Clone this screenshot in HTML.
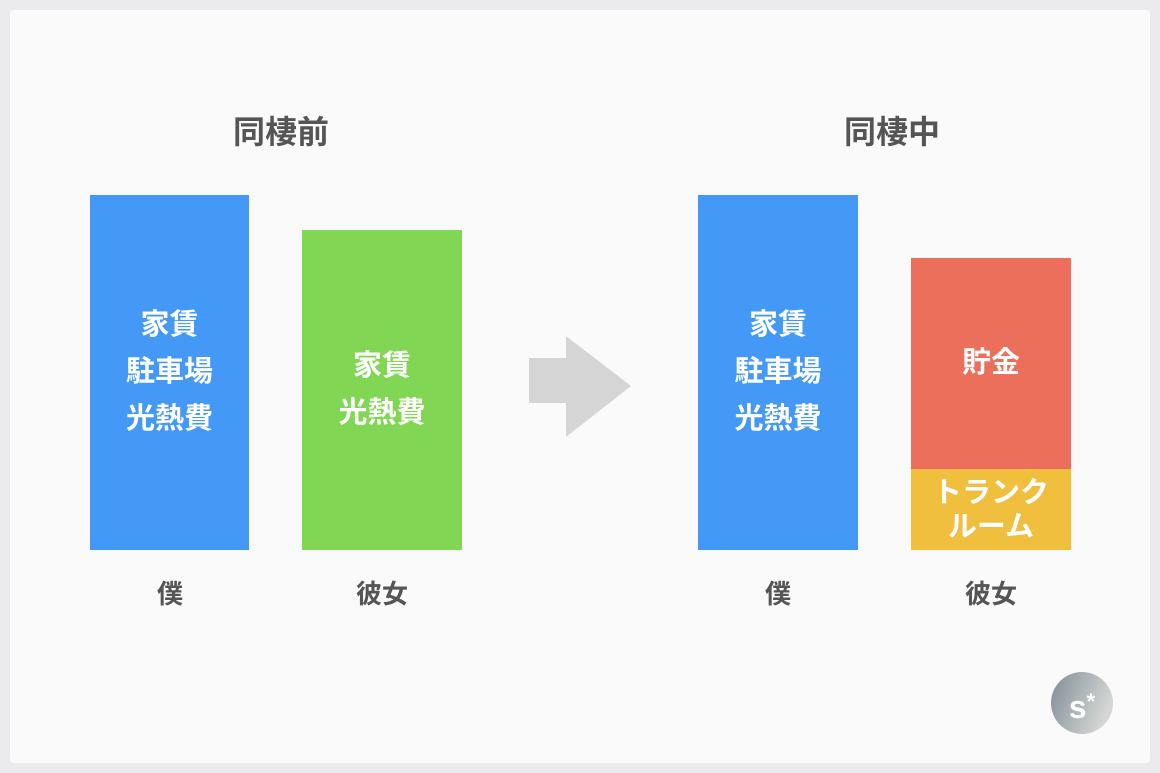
<!DOCTYPE html>
<html><head><meta charset="utf-8"><style>
body{margin:0;width:1160px;height:773px;background:#ebeaed;position:relative;overflow:hidden;font-family:"Liberation Sans","Noto Sans CJK JP",sans-serif;}
.card{position:absolute;left:10px;top:10px;width:1140px;height:753px;background:#fafafa;border-radius:4px}
.a{position:absolute}
.t{position:absolute;font-weight:bold;color:#555;font-size:32px;text-align:center;width:200px;line-height:40px}
.bar{position:absolute;display:flex;align-items:center;justify-content:center;color:#fff;font-weight:bold;font-size:29px;line-height:47px;text-align:center}
.lb{position:absolute;font-weight:bold;color:#555;font-size:26px;width:160px;text-align:center;line-height:34px}
</style></head><body>
<div class="card"></div>
<div class="t" style="left:181px;top:112px">同棲前</div>
<div class="t" style="left:792px;top:112px">同棲中</div>
<div class="bar" style="left:90px;top:195px;width:159px;height:355px;background:#4399f5">家賃<br>駐車場<br>光熱費</div>
<div class="bar" style="left:302px;top:230px;width:160px;height:320px;background:#81d654">家賃<br>光熱費</div>
<div class="bar" style="left:698px;top:195px;width:160px;height:355px;background:#4399f5">家賃<br>駐車場<br>光熱費</div>
<div class="bar" style="left:911px;top:258px;width:160px;height:211px;background:#ec6f5b">貯金</div>
<div class="bar" style="left:911px;top:469px;width:160px;height:81px;background:#f0bf3e;line-height:34px">トランク<br>ルーム</div>
<div class="lb" style="left:90px;top:577px">僕</div>
<div class="lb" style="left:302px;top:577px">彼女</div>
<div class="lb" style="left:698px;top:577px">僕</div>
<div class="lb" style="left:911px;top:577px">彼女</div>
<svg class="a" style="left:0;top:0" width="1160" height="773">
<polygon points="529,358 566,358 566,336 631,386 566,437 566,403 529,403" fill="#d6d5d6"/>
<defs><linearGradient id="g" x1="0" y1="0" x2="1" y2="0.4"><stop offset="0" stop-color="#7f8d95"/><stop offset="1" stop-color="#d4d6d4"/></linearGradient></defs>
<circle cx="1082" cy="703" r="31" fill="url(#g)"/>
</svg>
<div class="a" style="left:1052px;top:682px;width:60px;text-align:center;color:#fff;font-weight:bold;font-size:32px;line-height:40px">s<sup style="font-size:22px;vertical-align:9px">*</sup></div>
</body></html>
